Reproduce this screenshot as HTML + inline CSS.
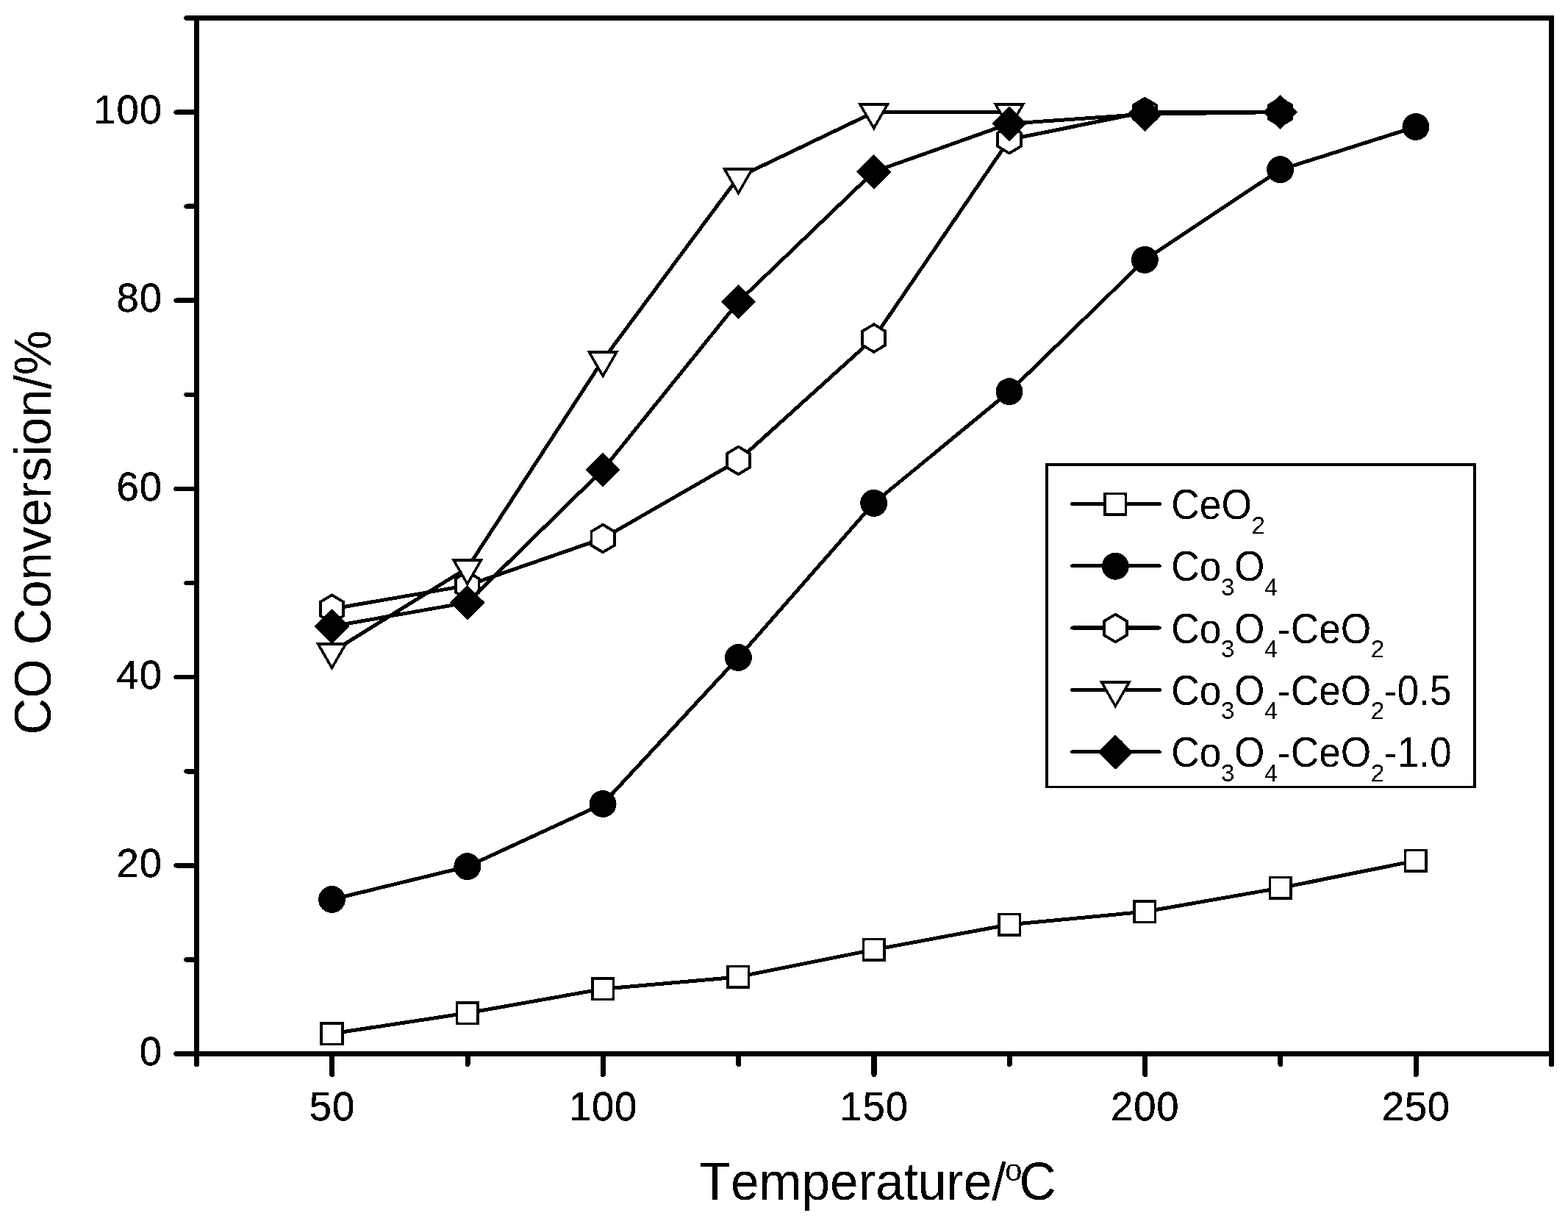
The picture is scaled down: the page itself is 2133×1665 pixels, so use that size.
<!DOCTYPE html>
<html><head><meta charset="utf-8"><title>CO Conversion vs Temperature</title>
<style>
html,body{margin:0;padding:0;background:#fff;}
body{width:2133px;height:1665px;overflow:hidden;}
svg{display:block;}
text{font-family:"Liberation Sans",sans-serif;fill:#000;font-kerning:none;}
.tk{font-size:54.5px;letter-spacing:0.75px;stroke:#000;stroke-width:0.35px;}
.ttl{font-size:69.5px;}
.lg{font-size:53.3px;}
.sub{font-size:33px;}
.sup{font-family:"Liberation Serif",serif;font-size:47px;}
</style></head><body>
<svg width="2133" height="1665" viewBox="0 0 2133 1665">
<defs><filter id="bw" x="0" y="0" width="2133" height="1665" filterUnits="userSpaceOnUse" color-interpolation-filters="sRGB"><feComponentTransfer><feFuncR type="discrete" tableValues="0 1"/><feFuncG type="discrete" tableValues="0 1"/><feFuncB type="discrete" tableValues="0 1"/></feComponentTransfer></filter></defs>
<g filter="url(#bw)">
<rect width="2133" height="1665" fill="#fff"/>

<g stroke="#000" stroke-width="7" fill="none">
<rect x="267.5" y="24.5" width="1843" height="1409" stroke-linejoin="miter"/>
</g>
<g stroke="#000" stroke-width="6.3" fill="none" stroke-linecap="round">
<line x1="267.5" y1="1433.50" x2="239.5" y2="1433.50"/>
<line x1="267.5" y1="1305.41" x2="253.5" y2="1305.41"/>
<line x1="267.5" y1="1177.32" x2="239.5" y2="1177.32"/>
<line x1="267.5" y1="1049.23" x2="253.5" y2="1049.23"/>
<line x1="267.5" y1="921.14" x2="239.5" y2="921.14"/>
<line x1="267.5" y1="793.05" x2="253.5" y2="793.05"/>
<line x1="267.5" y1="664.95" x2="239.5" y2="664.95"/>
<line x1="267.5" y1="536.86" x2="253.5" y2="536.86"/>
<line x1="267.5" y1="408.77" x2="239.5" y2="408.77"/>
<line x1="267.5" y1="280.68" x2="253.5" y2="280.68"/>
<line x1="267.5" y1="152.59" x2="239.5" y2="152.59"/>
<line x1="267.5" y1="24.50" x2="253.5" y2="24.50"/>
</g>
<g stroke="#000" stroke-width="7" fill="none" stroke-linecap="round">
<line x1="267.50" y1="1433.5" x2="267.50" y2="1447.5"/>
<line x1="451.80" y1="1433.5" x2="451.80" y2="1461.5"/>
<line x1="636.10" y1="1433.5" x2="636.10" y2="1447.5"/>
<line x1="820.40" y1="1433.5" x2="820.40" y2="1461.5"/>
<line x1="1004.70" y1="1433.5" x2="1004.70" y2="1447.5"/>
<line x1="1189.00" y1="1433.5" x2="1189.00" y2="1461.5"/>
<line x1="1373.30" y1="1433.5" x2="1373.30" y2="1447.5"/>
<line x1="1557.60" y1="1433.5" x2="1557.60" y2="1461.5"/>
<line x1="1741.90" y1="1433.5" x2="1741.90" y2="1447.5"/>
<line x1="1926.20" y1="1433.5" x2="1926.20" y2="1461.5"/>
<line x1="2110.50" y1="1433.5" x2="2110.50" y2="1447.5"/>
</g>
<g transform="translate(220.7,1449.10) scale(1,1.03)"><text class="tk" x="0" y="0" text-anchor="end">0</text></g>
<g transform="translate(220.7,1192.92) scale(1,1.03)"><text class="tk" x="0" y="0" text-anchor="end">20</text></g>
<g transform="translate(220.7,936.74) scale(1,1.03)"><text class="tk" x="0" y="0" text-anchor="end">40</text></g>
<g transform="translate(220.7,680.55) scale(1,1.03)"><text class="tk" x="0" y="0" text-anchor="end">60</text></g>
<g transform="translate(220.7,424.37) scale(1,1.03)"><text class="tk" x="0" y="0" text-anchor="end">80</text></g>
<g transform="translate(220.7,168.19) scale(1,1.03)"><text class="tk" x="0" y="0" text-anchor="end">100</text></g>
<g transform="translate(451.90,1523.9) scale(1,1.03)"><text class="tk" x="0" y="0" text-anchor="middle">50</text></g>
<g transform="translate(820.50,1523.9) scale(1,1.03)"><text class="tk" x="0" y="0" text-anchor="middle">100</text></g>
<g transform="translate(1189.10,1523.9) scale(1,1.03)"><text class="tk" x="0" y="0" text-anchor="middle">150</text></g>
<g transform="translate(1557.70,1523.9) scale(1,1.03)"><text class="tk" x="0" y="0" text-anchor="middle">200</text></g>
<g transform="translate(1926.30,1523.9) scale(1,1.03)"><text class="tk" x="0" y="0" text-anchor="middle">250</text></g>
<g transform="translate(0,1632) scale(1,1.035)"><text class="ttl" x="951.5" y="0">Temperature/<tspan class="sup" x="1367" y="-25.5">o</tspan><tspan x="1386.5" y="0">C</tspan></text></g>
<text class="ttl" transform="translate(68.5,996) rotate(-90) scale(1,1.03)" x="-3.5" y="0" style="font-size:68.8px">CO Conversion/%</text>
<polyline fill="none" stroke="#000" stroke-width="5" stroke-linejoin="round" points="451.5,1406 635.8,1378 820.1,1345.2 1004.4,1328.9 1188.7,1291.9 1373,1257.7 1557.3,1240.2 1741.6,1207.9 1925.9,1170.9"/>
<rect x="437.25" y="1391.75" width="28.5" height="28.5" fill="#fff" stroke="#000" stroke-width="3.5"/>
<rect x="621.55" y="1363.75" width="28.5" height="28.5" fill="#fff" stroke="#000" stroke-width="3.5"/>
<rect x="805.85" y="1330.95" width="28.5" height="28.5" fill="#fff" stroke="#000" stroke-width="3.5"/>
<rect x="990.15" y="1314.65" width="28.5" height="28.5" fill="#fff" stroke="#000" stroke-width="3.5"/>
<rect x="1174.45" y="1277.65" width="28.5" height="28.5" fill="#fff" stroke="#000" stroke-width="3.5"/>
<rect x="1358.75" y="1243.45" width="28.5" height="28.5" fill="#fff" stroke="#000" stroke-width="3.5"/>
<rect x="1543.05" y="1225.95" width="28.5" height="28.5" fill="#fff" stroke="#000" stroke-width="3.5"/>
<rect x="1727.35" y="1193.65" width="28.5" height="28.5" fill="#fff" stroke="#000" stroke-width="3.5"/>
<rect x="1911.65" y="1156.65" width="28.5" height="28.5" fill="#fff" stroke="#000" stroke-width="3.5"/>
<polyline fill="none" stroke="#000" stroke-width="5" stroke-linejoin="round" points="451.5,1223.5 635.8,1178.8 820.1,1093.5 1004.4,894.5 1188.7,684.4 1373,532.8 1557.3,353.4 1741.6,230.8 1925.9,172.5"/>
<circle cx="451.5" cy="1223.5" r="18.45" fill="#000"/>
<circle cx="635.8" cy="1178.8" r="18.45" fill="#000"/>
<circle cx="820.1" cy="1093.5" r="18.45" fill="#000"/>
<circle cx="1004.4" cy="894.5" r="18.45" fill="#000"/>
<circle cx="1188.7" cy="684.4" r="18.45" fill="#000"/>
<circle cx="1373" cy="532.8" r="18.45" fill="#000"/>
<circle cx="1557.3" cy="353.4" r="18.45" fill="#000"/>
<circle cx="1741.6" cy="230.8" r="18.45" fill="#000"/>
<circle cx="1925.9" cy="172.5" r="18.45" fill="#000"/>
<polyline fill="none" stroke="#000" stroke-width="5" stroke-linejoin="round" points="451.5,828.2 635.8,796.4 820.1,732.4 1004.4,626.4 1188.7,460 1373,189.8 1557.3,152.6 1741.6,152.6"/>
<polygon points="451.50,809.40 467.15,818.80 467.15,837.60 451.50,847.00 435.85,837.60 435.85,818.80" fill="#fff" stroke="#000" stroke-width="3.8" stroke-linejoin="miter"/>
<polygon points="635.80,777.60 651.45,787.00 651.45,805.80 635.80,815.20 620.15,805.80 620.15,787.00" fill="#fff" stroke="#000" stroke-width="3.8" stroke-linejoin="miter"/>
<polygon points="820.10,713.60 835.75,723.00 835.75,741.80 820.10,751.20 804.45,741.80 804.45,723.00" fill="#fff" stroke="#000" stroke-width="3.8" stroke-linejoin="miter"/>
<polygon points="1004.40,607.60 1020.05,617.00 1020.05,635.80 1004.40,645.20 988.75,635.80 988.75,617.00" fill="#fff" stroke="#000" stroke-width="3.8" stroke-linejoin="miter"/>
<polygon points="1188.70,441.20 1204.35,450.60 1204.35,469.40 1188.70,478.80 1173.05,469.40 1173.05,450.60" fill="#fff" stroke="#000" stroke-width="3.8" stroke-linejoin="miter"/>
<polygon points="1373.00,171.00 1388.65,180.40 1388.65,199.20 1373.00,208.60 1357.35,199.20 1357.35,180.40" fill="#fff" stroke="#000" stroke-width="3.8" stroke-linejoin="miter"/>
<polygon points="1557.30,133.80 1572.95,143.20 1572.95,162.00 1557.30,171.40 1541.65,162.00 1541.65,143.20" fill="#fff" stroke="#000" stroke-width="3.8" stroke-linejoin="miter"/>
<polygon points="1741.60,133.80 1757.25,143.20 1757.25,162.00 1741.60,171.40 1725.95,162.00 1725.95,143.20" fill="#fff" stroke="#000" stroke-width="3.8" stroke-linejoin="miter"/>
<polyline fill="none" stroke="#000" stroke-width="5" stroke-linejoin="round" points="451.5,886.8 635.8,772.6 820.1,489.7 1004.4,241 1188.7,152.7 1373,152.7"/>
<polygon points="432.71,875.95 470.29,875.95 451.50,908.50" fill="#fff" stroke="#000" stroke-width="3.5" stroke-linejoin="miter"/>
<polygon points="617.01,761.75 654.59,761.75 635.80,794.30" fill="#fff" stroke="#000" stroke-width="3.5" stroke-linejoin="miter"/>
<polygon points="801.31,478.85 838.89,478.85 820.10,511.40" fill="#fff" stroke="#000" stroke-width="3.5" stroke-linejoin="miter"/>
<polygon points="985.61,230.15 1023.19,230.15 1004.40,262.70" fill="#fff" stroke="#000" stroke-width="3.5" stroke-linejoin="miter"/>
<polygon points="1169.91,141.85 1207.49,141.85 1188.70,174.40" fill="#fff" stroke="#000" stroke-width="3.5" stroke-linejoin="miter"/>
<polygon points="1354.21,141.85 1391.79,141.85 1373.00,174.40" fill="#fff" stroke="#000" stroke-width="3.5" stroke-linejoin="miter"/>
<polyline fill="none" stroke="#000" stroke-width="5" stroke-linejoin="round" points="451.5,852 635.8,819.6 820.1,639 1004.4,410.5 1188.7,233.7 1373,168.2 1557.3,155.2 1741.6,152.4"/>
<polygon points="427.80,852.00 451.50,828.30 475.20,852.00 451.50,875.70" fill="#000"/>
<polygon points="612.10,819.60 635.80,795.90 659.50,819.60 635.80,843.30" fill="#000"/>
<polygon points="796.40,639.00 820.10,615.30 843.80,639.00 820.10,662.70" fill="#000"/>
<polygon points="980.70,410.50 1004.40,386.80 1028.10,410.50 1004.40,434.20" fill="#000"/>
<polygon points="1165.00,233.70 1188.70,210.00 1212.40,233.70 1188.70,257.40" fill="#000"/>
<polygon points="1349.30,168.20 1373.00,144.50 1396.70,168.20 1373.00,191.90" fill="#000"/>
<polygon points="1533.60,155.20 1557.30,131.50 1581.00,155.20 1557.30,178.90" fill="#000"/>
<polygon points="1717.90,152.40 1741.60,128.70 1765.30,152.40 1741.60,176.10" fill="#000"/>
<rect x="1423.75" y="631.9" width="582.35" height="438.5" fill="#fff" stroke="#000" stroke-width="3.5"/>
<line x1="1458.5" y1="685.50" x2="1577.3" y2="685.50" stroke="#000" stroke-width="5" stroke-linecap="round"/>
<rect x="1503.05" y="671.65" width="28.5" height="28.5" fill="#fff" stroke="#000" stroke-width="3.5"/>
<g class="legend-label"><text class="lg" transform="translate(1593.30,706.10) scale(1,1.085)">CeO</text><text class="sub" x="1702.47" y="725.50">2</text></g>
<line x1="1458.5" y1="769.80" x2="1577.3" y2="769.80" stroke="#000" stroke-width="5" stroke-linecap="round"/>
<circle cx="1517.3" cy="770.2" r="18.45" fill="#000"/>
<g class="legend-label"><text class="lg" transform="translate(1593.30,790.40) scale(1,1.085)">Co</text><text class="sub" x="1661.01" y="809.80">3</text><text class="lg" transform="translate(1678.93,790.40) scale(1,1.085)">O</text><text class="sub" x="1719.97" y="809.80">4</text></g>
<line x1="1458.5" y1="854.10" x2="1577.3" y2="854.10" stroke="#000" stroke-width="5" stroke-linecap="round"/>
<polygon points="1517.30,835.70 1532.95,845.10 1532.95,863.90 1517.30,873.30 1501.65,863.90 1501.65,845.10" fill="#fff" stroke="#000" stroke-width="3.8" stroke-linejoin="miter"/>
<g class="legend-label"><text class="lg" transform="translate(1593.30,874.70) scale(1,1.085)">Co</text><text class="sub" x="1661.01" y="894.10">3</text><text class="lg" transform="translate(1678.93,874.70) scale(1,1.085)">O</text><text class="sub" x="1719.97" y="894.10">4</text><text class="lg" transform="translate(1737.89,874.70) scale(1,1.085)">-CeO</text><text class="sub" x="1864.81" y="894.10">2</text></g>
<line x1="1458.5" y1="938.40" x2="1577.3" y2="938.40" stroke="#000" stroke-width="5" stroke-linecap="round"/>
<polygon points="1498.51,927.95 1536.09,927.95 1517.30,960.50" fill="#fff" stroke="#000" stroke-width="3.5" stroke-linejoin="miter"/>
<g class="legend-label"><text class="lg" transform="translate(1593.30,959.00) scale(1,1.085)">Co</text><text class="sub" x="1661.01" y="978.40">3</text><text class="lg" transform="translate(1678.93,959.00) scale(1,1.085)">O</text><text class="sub" x="1719.97" y="978.40">4</text><text class="lg" transform="translate(1737.89,959.00) scale(1,1.085)">-CeO</text><text class="sub" x="1864.81" y="978.40">2</text><text class="lg" transform="translate(1882.74,959.00) scale(1,1.085)">-0.5</text></g>
<line x1="1458.5" y1="1022.70" x2="1577.3" y2="1022.70" stroke="#000" stroke-width="5" stroke-linecap="round"/>
<polygon points="1493.60,1023.10 1517.30,999.40 1541.00,1023.10 1517.30,1046.80" fill="#000"/>
<g class="legend-label"><text class="lg" transform="translate(1593.30,1043.30) scale(1,1.085)">Co</text><text class="sub" x="1661.01" y="1062.70">3</text><text class="lg" transform="translate(1678.93,1043.30) scale(1,1.085)">O</text><text class="sub" x="1719.97" y="1062.70">4</text><text class="lg" transform="translate(1737.89,1043.30) scale(1,1.085)">-CeO</text><text class="sub" x="1864.81" y="1062.70">2</text><text class="lg" transform="translate(1882.74,1043.30) scale(1,1.085)">-1.0</text></g>
</g></svg></body></html>
